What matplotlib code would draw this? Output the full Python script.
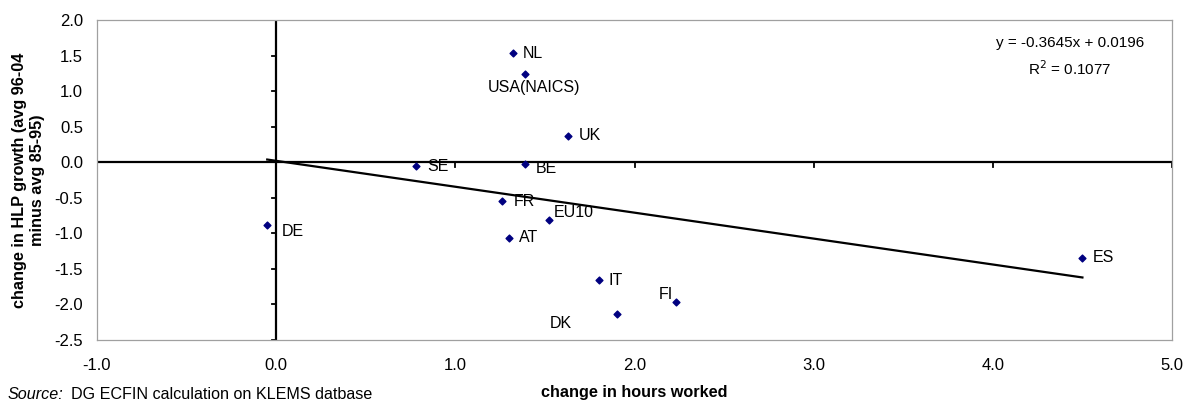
"""Change in HLP growth vs change in hours worked."""

import matplotlib

matplotlib.use("Agg")
import matplotlib.pyplot as plt
import numpy as np

plt.rcParams["font.family"] = ["Liberation Sans", "DejaVu Sans"]

countries = ["DE", "NL", "USA(NAICS)", "UK", "SE", "BE", "FR", "EU10", "AT", "IT", "FI", "DK", "ES"]
hours = [-0.05, 1.32, 1.39, 1.63, 0.78, 1.39, 1.26, 1.52, 1.30, 1.80, 2.23, 1.90, 4.50]
hlp = [-0.88, 1.54, 1.24, 0.37, -0.06, -0.03, -0.55, -0.81, -1.06, -1.66, -1.97, -2.14, -1.34]

slope = -0.3645
intercept = 0.0196
r2 = 0.1077

# label offsets in pixels (dx, dy, ha, va)
label_pos = {
    "DE": (15, -7, "left", "center"),
    "NL": (10, -1, "left", "center"),
    "USA(NAICS)": (9, -6, "center", "top"),
    "UK": (11, 0, "left", "center"),
    "SE": (11, 0, "left", "center"),
    "BE": (11, -4, "left", "center"),
    "FR": (12, 0, "left", "center"),
    "EU10": (5, 7, "left", "center"),
    "AT": (10, 0, "left", "center"),
    "IT": (10, 0, "left", "center"),
    "FI": (-3, 8, "right", "center"),
    "DK": (-45, -9, "right", "center"),
    "ES": (10, 0, "left", "center"),
}

fig = plt.figure(figsize=(11.85, 4.03), dpi=100)
ax = fig.add_axes([97 / 1185, 1 - 340 / 403, (1172 - 97) / 1185, 320 / 403])

ax.set_xlim(-1, 5)
ax.set_ylim(-2.5, 2)
for s in ax.spines.values():
    s.set_color("#a0a0a0")
    s.set_linewidth(0.9)

# Excel-style crossing axes
ax.axhline(0, color="black", lw=1.6, zorder=2)
ax.axvline(0, color="black", lw=1.6, zorder=2)
for xt in np.arange(-1, 6, 1.0):
    ax.plot([xt, xt], [0, -0.07], color="black", lw=1.3, zorder=2)
for yt in np.arange(-2.5, 2.01, 0.5):
    ax.plot([0, -0.025], [yt, yt], color="black", lw=1.3, zorder=2)

x = np.array(hours)
xs = np.array([x.min(), x.max()])
ax.plot(xs, slope * xs + intercept, color="black", lw=1.6, zorder=3)

ax.scatter(hours, hlp, marker="D", s=12, color="#000080", zorder=4)
for c, xv, yv in zip(countries, hours, hlp):
    dx, dy, ha, va = label_pos[c]
    ax.annotate(c, (xv, yv), xytext=(dx, dy), textcoords="offset pixels",
                ha=ha, va=va, fontsize=11.5)

ax.text(0.905, 0.927, f"y = {slope:.4f}x + {intercept:.4f}", transform=ax.transAxes,
        ha="center", va="center", fontsize=11)
ax.text(0.905, 0.849, f"R$^2$ = {r2:.4f}", transform=ax.transAxes,
        ha="center", va="center", fontsize=11)

ax.set_xticks(np.arange(-1, 6, 1.0))
ax.set_yticks(np.arange(-2.5, 2.01, 0.5))
ax.xaxis.set_major_formatter(matplotlib.ticker.FormatStrFormatter("%.1f"))
ax.yaxis.set_major_formatter(matplotlib.ticker.FormatStrFormatter("%.1f"))
ax.tick_params(length=0, labelsize=12)
ax.tick_params(axis="x", pad=13)
ax.tick_params(axis="y", pad=10)

ax.set_xlabel("change in hours worked", fontsize=11.7, fontweight="bold")
ax.xaxis.set_label_coords(0.5, -0.14)
ax.set_ylabel("change in HLP growth (avg 96-04\nminus avg 85-95)", fontsize=11.7,
              fontweight="bold", linespacing=1.25)
ax.yaxis.set_label_coords(-0.0633, 0.5)
ax.yaxis.label.set_verticalalignment("center")

fig.text(8 / 1185, 1 - 399 / 403, "Source:", style="italic", fontsize=11.6, va="baseline")
fig.text(71 / 1185, 1 - 399 / 403, "DG ECFIN calculation on KLEMS datbase", fontsize=11.6,
         va="baseline")

fig.savefig("out.png", dpi=100)
plt.close(fig)
